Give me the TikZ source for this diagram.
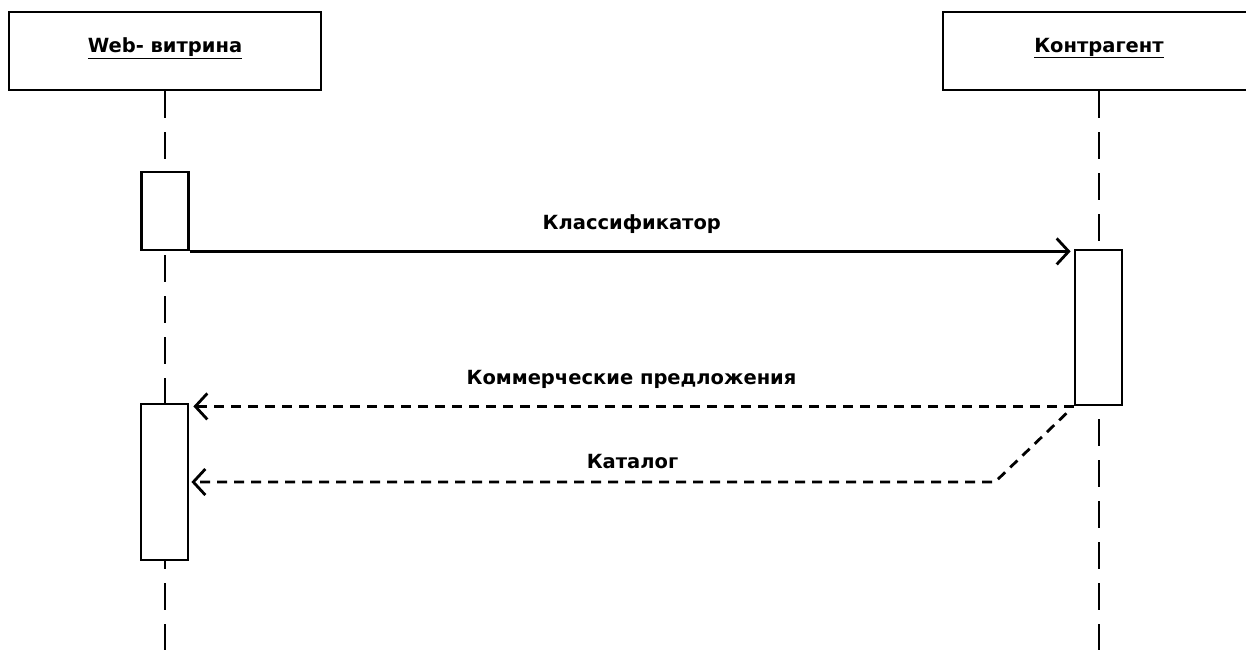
\documentclass[tikz,border=0pt]{standalone}
\usepackage{fontspec}
\setmainfont{DejaVu Sans}
\usetikzlibrary{arrows.meta}
\usetikzlibrary{positioning}

\begin{document}
\begin{tikzpicture}[x=1pt,y=-1pt,line width=2.8pt,
                    every node/.style={font=\bfseries\fontsize{19.5}{22}\selectfont},
                    head/.style={rectangle,draw,fill=white,minimum width=312pt,minimum height=78pt,inner sep=0pt},
                    act/.style={rectangle,draw,fill=white,minimum width=47pt,inner sep=0pt},
                    lifeline/.style={dash pattern=on 27pt off 14pt},
                    call/.style={-{Straight Barb[length=12pt,width=26pt]}},
                    reply/.style={-{Straight Barb[length=12pt,width=26pt]},dash pattern=on 10pt off 7pt}]

  \useasboundingbox (0,0) rectangle (1246,649);

  % heads
  \node[head](web) at (165,51) {\raisebox{12pt}{\underline{Web- витрина}}};
  \node[head](agent) at (1099,51) {\raisebox{12pt}{\underline{Контрагент}}};

  % lifelines
  \coordinate (webend) at (165,660);
  \coordinate (agentend) at (1099,660);
  \draw[lifeline] (web.south) -- (webend);
  \draw[lifeline] (agent.south) -- (agentend);

  % activations
  \node[act,minimum height=78pt](act1) at (165,211) {};
  \node[act,minimum height=155pt](act2) at (1098.5,327.5) {};
  \node[act,minimum height=156pt](act3) at (164.5,482) {};

  \coordinate (bend) at (995,482);

  % messages
  \draw[call,shorten >=3pt] (act1.south east) -- node[midway,above=13pt] {Классификатор} (act1.south east -| act2.west);
  \draw[reply,shorten >=4pt] (act2.south west) -- node[midway,above=13pt] {Коммерческие предложения} (act2.south west -| act3.east);
  \draw[reply,shorten <=10pt,shorten >=2pt] (act2.south west) -- (bend) -- node[pos=.45,above=9pt] {Каталог} (act3.east);
\end{tikzpicture}
\end{document}
